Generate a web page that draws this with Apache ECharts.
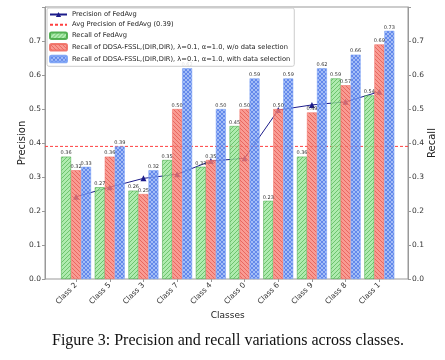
<!DOCTYPE html>
<html><head><meta charset="utf-8">
<script src="https://cdn.jsdelivr.net/npm/echarts@6/dist/echarts.min.js"></script>
<style>html,body{margin:0;padding:0;background:#fff}#c{width:445px;height:360px}</style>
</head><body><div id="c"></div>
<script>
const categories = ['Class 2','Class 5','Class 3','Class 7','Class 4','Class 0','Class 6','Class 9','Class 8','Class 1'];
const precisionFedAvg = [0.242,0.270,0.296,0.308,0.347,0.355,0.497,0.512,0.521,0.551];
const avgPrecision = 0.39;
const recallFedAvg = [0.36,0.27,0.26,0.35,0.33,0.45,0.23,0.36,0.59,0.54];
const recallNoSel = [0.32,0.36,0.25,0.50,0.35,0.50,0.50,0.49,0.57,0.69];
const recallWithSel = [0.33,0.39,0.32,0.62,0.50,0.59,0.59,0.62,0.66,0.73];
const yTicks = [0,0.1,0.2,0.3,0.4,0.5,0.6,0.7];

function pattern(bg, fg, kind){
  const s = 4;
  const c = document.createElement('canvas'); c.width = s; c.height = s;
  const g = c.getContext('2d');
  g.fillStyle = bg; g.fillRect(0,0,s,s);
  g.strokeStyle = fg; g.lineWidth = 0.9;
  const fw = () => { g.beginPath(); g.moveTo(-1,s+1); g.lineTo(s+1,-1); g.moveTo(-1,1); g.lineTo(1,-1); g.moveTo(s-1,s+1); g.lineTo(s+1,s-1); g.stroke(); };
  const bw = () => { g.beginPath(); g.moveTo(-1,-1); g.lineTo(s+1,s+1); g.moveTo(s-1,-1); g.lineTo(s+1,1); g.moveTo(-1,s-1); g.lineTo(1,s+1); g.stroke(); };
  if (kind==='/') fw(); else if (kind==='\\') bw(); else { fw(); bw(); }
  return {image: c, repeat: 'repeat'};
}
const greenPat = pattern('rgba(155,230,155,0.8)','rgba(85,180,85,0.8)','/');
const redPat = pattern('rgba(248,130,120,0.8)','rgba(225,85,75,0.8)','\\');
const bluePat = pattern('rgba(140,172,245,0.8)','rgba(75,115,230,0.8)','x');

const chart = echarts.init(document.getElementById('c'), null, {renderer:'canvas'});
const axisTxt = {fontSize:7.5, color:'#333', fontFamily:'DejaVu Sans'};
const barLabel = {show:true, position:'top', distance:1, fontSize:5, color:'#333', fontFamily:'DejaVu Sans', formatter: p => p.value.toFixed(2)};
const yCommon = {type:'value', min:0, max:0.8, interval:0.1,
  axisLine:{show:true, lineStyle:{color:'#999', width:1}},
  axisTick:{show:true, length:3, lineStyle:{color:'#999'}},
  splitLine:{show:false},
  axisLabel:Object.assign({}, axisTxt, {margin:4, formatter: v => (v>0.75 ? '' : v.toFixed(1))}),
  nameLocation:'middle', nameMoveOverlap:false, nameTextStyle:{fontSize:10, color:'#222', fontFamily:'DejaVu Sans'}};

chart.setOption({
  animation:false,
  grid:[
    {left:45, right:36, top:7, bottom:81, show:true, borderColor:'#999', borderWidth:1, backgroundColor:'transparent'},
    {left:59.2, right:48.8, top:7, bottom:81}
  ],
  xAxis:[
    {type:'value', gridIndex:0, min:0, max:1, show:false},
    {type:'category', gridIndex:1, data:categories, boundaryGap:true,
     axisLine:{show:false}, axisTick:{show:true, alignWithLabel:true, length:3, lineStyle:{color:'#999'}},
     axisLabel:Object.assign({}, axisTxt, {rotate:45, margin:5, interval:0}),
     name:'Classes', nameLocation:'middle', nameGap:32, nameMoveOverlap:false, nameTextStyle:{fontSize:9, color:'#222', fontFamily:'DejaVu Sans'}}
  ],
  yAxis:[
    Object.assign({}, yCommon, {gridIndex:0, position:'left', name:'Precision', nameGap:18}),
    Object.assign({}, yCommon, {gridIndex:0, position:'right', name:'Recall', nameGap:19, nameRotate:90}),
    {type:'value', gridIndex:1, min:0, max:0.8, show:false}
  ],
  legend:{
    left:47, top:8, orient:'vertical', itemWidth:17, itemHeight:6.5, itemGap:3.2,
    padding:[3,4,3,2], backgroundColor:'rgba(255,255,255,0.85)', borderColor:'#ccc', borderWidth:1, borderRadius:2,
    textStyle:{fontSize:6.7, color:'#222', fontFamily:'DejaVu Sans'},
    data:['Precision of FedAvg',{name:'Avg Precision of FedAvg (0.39)', itemStyle:{opacity:0}},'Recall of FedAvg',
      'Recall of DDSA-FSSL,(DIR,DIR), λ=0.1, α=1.0, w/o data selection',
      'Recall of DDSA-FSSL,(DIR,DIR), λ=0.1, α=1.0, with data selection']
  },
  series:[
    {name:'Precision of FedAvg', type:'line', xAxisIndex:1, yAxisIndex:2, data:precisionFedAvg, z:1,
     symbol:'triangle', symbolSize:6, lineStyle:{color:'#1c1c8a', width:1}, itemStyle:{color:'#1c1c8a'}},
    {name:'Avg Precision of FedAvg (0.39)', type:'line', xAxisIndex:0, yAxisIndex:0, data:[[0,avgPrecision],[1,avgPrecision]],
     symbol:'none', z:1, lineStyle:{color:'#ff4040', width:1, type:[3,2]}, itemStyle:{color:'#ff4040'}},
    {name:'Recall of FedAvg', type:'bar', xAxisIndex:1, yAxisIndex:2, data:recallFedAvg, barWidth:10, barGap:'0%', z:2,
     itemStyle:{color:greenPat, borderColor:'rgba(70,170,70,0.9)', borderWidth:0.6}, label:barLabel},
    {name:'Recall of DDSA-FSSL,(DIR,DIR), λ=0.1, α=1.0, w/o data selection', type:'bar', xAxisIndex:1, yAxisIndex:2, data:recallNoSel, barWidth:10, barGap:'0%', z:2,
     itemStyle:{color:redPat, borderColor:'rgba(240,110,100,0.9)', borderWidth:0.6}, label:barLabel},
    {name:'Recall of DDSA-FSSL,(DIR,DIR), λ=0.1, α=1.0, with data selection', type:'bar', xAxisIndex:1, yAxisIndex:2, data:recallWithSel, barWidth:10, barGap:'0%', z:2,
     itemStyle:{color:bluePat, borderColor:'rgba(120,160,245,0.9)', borderWidth:0.6}, label:barLabel}
  ],
  graphic:[
    {type:'text', left:52, top:333, style:{text:'Figure 3: Precision and recall variations across classes.', fontSize:16, fontFamily:'Liberation Serif', fill:'#111'}}
  ]
});
</script></body></html>
